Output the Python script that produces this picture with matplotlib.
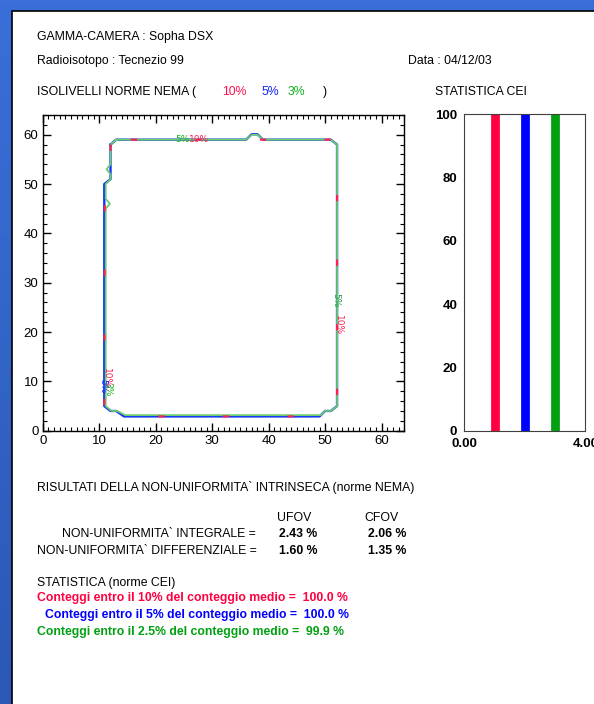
import numpy as np
import matplotlib
matplotlib.use("Agg")
import matplotlib.pyplot as plt
from matplotlib.patches import Rectangle
from matplotlib.colors import LinearSegmentedColormap

plt.rcParams['font.family'] = ['Liberation Sans', 'DejaVu Sans']

# === Data ===
# isolevel contours (pixel units of the uniformity map)
green_x = [13, 36, 37, 38, 39, 51, 52.1, 52.1, 51, 50, 49.2, 14.6, 13.2, 12.2, 11.15, 11.15, 11.9, 11.15, 11.15,
           12, 12, 11.3, 12, 12, 13]
green_y = [59, 59, 60, 60, 59, 59, 58, 5, 4, 4, 3.15, 3.15, 4, 4, 5, 45, 46, 47, 50, 51, 52, 53, 54, 58, 59]
blue_x = [12, 12, 10.9, 10.9, 12, 13, 14.4, 49, 50, 51, 52.1, 52.1, 51, 39, 38, 37, 36, 13, 12]
blue_y = [58, 51, 50, 5, 4, 4, 2.9, 2.9, 4, 4, 5, 58, 59, 59, 60.1, 60.1, 59, 59, 58]
red_x = [12, 12, 11.5, 12, 11, 10.9, 12, 13, 14.4, 49, 50, 51, 52.1, 52.1, 51, 13, 12]
red_y = [58, 54, 53, 52, 51, 5, 4, 4, 2.9, 2.9, 4, 4, 5, 58, 59, 59, 58]

# contour labels
lab_text = ['5%', '10%', '5%', '10%', '10%', '5%', '3%']
lab_x = [24.8, 27.6, 51.9, 52.4, 11.2, 10.6, 11.6]
lab_y = [59.0, 59.0, 26.5, 21.5, 10.6, 9.0, 8.4]
lab_rot = [0, 0, -90, -90, -90, -90, -90]
lab_col = ['#22b022', '#ff2050', '#22a040', '#ff2050', '#ff2050', '#2030ff', '#22b022']

# CEI statistics bars
stat_pos = [1, 2, 3]
stat_val = [100.0, 100.0, 99.9]
stat_col = ['#ff0040', '#0000ff', '#00a010']

ufov = [2.43, 1.60]
cfov = [2.06, 1.35]

W, H = 594, 704
fig = plt.figure(figsize=(W / 100, H / 100), dpi=100)

# === Background (window) ===
bg = fig.add_axes([0, 0, 1, 1])
grad = np.linspace(0, 1, 200).reshape(-1, 1)
cmap = LinearSegmentedColormap.from_list('win', ['#3a6fd9', '#2b58b6'])
bg.imshow(grad, aspect='auto', cmap=cmap, extent=[0, W, H, 0])
bg.add_patch(Rectangle((11.5, 10.5), W, H, facecolor='white', edgecolor='black', lw=1.2))
bg.set_xlim(0, W)
bg.set_ylim(H, 0)
bg.axis('off')


def px(x, y):
    return x / W, 1 - y / H


def txt(x, y, s, color='black', weight='normal', size=8.8):
    fig.text(*px(x, y), s, color=color, fontsize=size, fontweight=weight, va='center', ha='left')


# === Header texts ===
txt(37, 37, 'GAMMA-CAMERA : Sopha DSX')
txt(37, 61, 'Radioisotopo : Tecnezio 99')
txt(408, 61, 'Data : 04/12/03')
txt(37, 92, 'ISOLIVELLI NORME NEMA (')
txt(222, 92, '10%', color='#ff1050')
txt(262, 92, '5%', color='#1020ff')
txt(288, 92, '3%', color='#10b020')
txt(323, 92, ')')
txt(435, 92, 'STATISTICA CEI')

# === Isolevel map ===
ax = fig.add_axes([42.7 / W, 1 - 430.7 / H, 361.6 / W, 315.7 / H])
ax.plot(blue_x, blue_y, color='#1030ff', lw=1.7)
ax.plot(green_x, green_y, color='#6ccc6c', lw=1.3)
ax.plot(red_x, red_y, color='#ff2050', lw=1.5, dashes=(3, 28))
for t, x, y, r, c in zip(lab_text, lab_x, lab_y, lab_rot, lab_col):
    ax.text(x, y, t, rotation=r, color=c, fontsize=6.5, ha='center', va='center',
            family='DejaVu Sans')
ax.set_xlim(0, 64)
ax.set_ylim(0, 64)
ax.set_xticks(range(0, 61, 10))
ax.set_yticks(range(0, 61, 10))
ax.set_xticks(range(0, 65, 1), minor=True)
ax.set_yticks(range(0, 65, 2), minor=True)
ax.tick_params(which='both', direction='in', top=True, right=True, labelsize=9.5, pad=3)
ax.tick_params(which='major', length=6, width=1)
ax.tick_params(which='minor', length=3, width=0.8)
for sp in ax.spines.values():
    sp.set_linewidth(1)

# === CEI statistics ===
ax2 = fig.add_axes([464.3 / W, 1 - 430.7 / H, 121 / W, 316.4 / H])
for p, v, c in zip(stat_pos, stat_val, stat_col):
    ax2.plot([p, p], [0, v], color=c, lw=6.3, solid_capstyle='round', clip_on=True)
ax2.set_xlim(0, 4)
ax2.set_ylim(0, 100)
ax2.set_xticks([0, 4])
ax2.set_xticklabels(['0.00', '4.00'])
ax2.set_yticks(range(0, 101, 20))
ax2.tick_params(length=0, labelsize=9.5, pad=5)
for lab in ax2.get_xticklabels() + ax2.get_yticklabels():
    lab.set_fontweight('bold')
for sp in ax2.spines.values():
    sp.set_linewidth(0.8)
    sp.set_color('#404040')

# === Results ===
txt(37, 487, 'RISULTATI DELLA NON-UNIFORMITA` INTRINSECA (norme NEMA)')
txt(277, 518, 'UFOV')
txt(364, 518, 'CFOV')
txt(62, 534, 'NON-UNIFORMITA` INTEGRALE =')
txt(37, 551, 'NON-UNIFORMITA` DIFFERENZIALE =')
for y, u, c in zip([534, 551], ufov, cfov):
    txt(279, y, f'{u:.2f} %', weight='bold')
    txt(368, y, f'{c:.2f} %', weight='bold')

txt(37, 583, 'STATISTICA (norme CEI)')
txt(37, 598, f'Conteggi entro il 10% del conteggio medio =  {stat_val[0]:.1f} %', color=stat_col[0], weight='bold')
txt(45, 615, f'Conteggi entro il 5% del conteggio medio =  {stat_val[1]:.1f} %', color=stat_col[1], weight='bold')
txt(37, 632, f'Conteggi entro il 2.5% del conteggio medio =  {stat_val[2]:.1f} %', color=stat_col[2], weight='bold')

fig.savefig('out.png', dpi=100)
